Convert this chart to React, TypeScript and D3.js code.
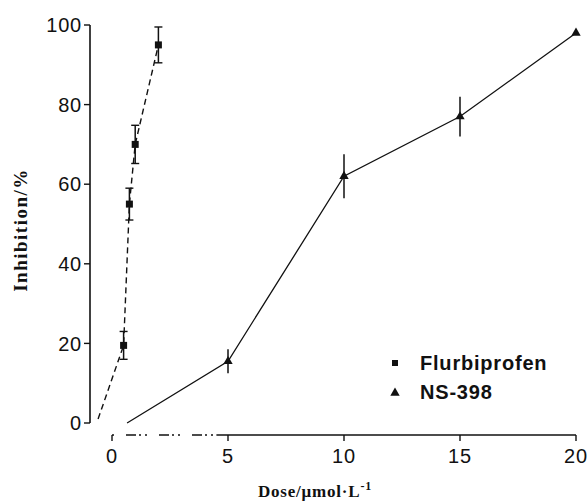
import React from "react";
import * as d3 from "d3";

// Flurbiprofen (squares, dashed line)
const flurbiOrigin = [-0.6, 1];
const flurbiDose = [0.5, 0.75, 1, 2];
const flurbiInhib = [19.5, 55, 70, 95];
const flurbiSd = [3.5, 4, 4.8, 4.5];

// NS-398 (triangles, solid line)
const nsOrigin = [0.65, 0];
const nsDose = [5, 10, 15, 20];
const nsInhib = [15.5, 62, 77, 98];
const nsSd = [3, 5.5, 5, 0];

const xTicks = [0, 5, 10, 15, 20];
const yTicks = [0, 20, 40, 60, 80, 100];
const legendLabels = ["Flurbiprofen", "NS-398"];

const W = 588;
const H = 501;

export default function App() {
  const x = d3.scaleLinear().domain([0, 20]).range([112, 576]);
  const y = d3.scaleLinear().domain([0, 100]).range([423, 25]);
  const line = d3
    .line<[number, number]>()
    .x((d) => x(d[0]))
    .y((d) => y(d[1]));

  const flurbiPts: [number, number][] = [
    [flurbiOrigin[0], flurbiOrigin[1]],
    ...flurbiDose.map((d, i) => [d, flurbiInhib[i]] as [number, number]),
  ];
  const nsPts: [number, number][] = [
    [nsOrigin[0], nsOrigin[1]],
    ...nsDose.map((d, i) => [d, nsInhib[i]] as [number, number]),
  ];

  const tri = d3.symbol().type(d3.symbolTriangle).size(38)() as string;
  const axisY = 435;
  const ink = "#111";
  const sans = "'Liberation Sans', Arial, sans-serif";
  const serif = "'Liberation Serif', 'Times New Roman', serif";

  return (
    <svg
      width={W}
      height={H}
      style={{ position: "absolute", left: 0, top: 0, background: "#fff" }}
    >
      <rect width={W} height={H} fill="#fff" />
      {/* Y axis */}
      <line x1={90} x2={90} y1={y(0)} y2={y(100)} stroke={ink} strokeWidth={1.6} />
      {yTicks.map((t) => (
        <g key={t}>
          <line x1={84} x2={90} y1={y(t)} y2={y(t)} stroke={ink} strokeWidth={1.4} />
          <text
            x={82}
            y={y(t)}
            dy="0.36em"
            textAnchor="end"
            fontFamily={sans}
            fontSize={20}
            letterSpacing={0.8}
            fill={ink}
          >
            {t}
          </text>
        </g>
      ))}
      {/* X axis */}
      <line
        x1={x(0)}
        x2={x(4.5)}
        y1={axisY}
        y2={axisY}
        stroke={ink}
        strokeWidth={1.4}
        strokeDasharray="2,12,10,3,2,4"
      />
      <line x1={x(4.5)} x2={x(20)} y1={axisY} y2={axisY} stroke={ink} strokeWidth={1.6} />
      {xTicks.map((t) => (
        <g key={t}>
          <line x1={x(t)} x2={x(t)} y1={axisY} y2={axisY + 6} stroke={ink} strokeWidth={1.4} />
          <text
            x={x(t)}
            y={463}
            textAnchor="middle"
            fontFamily={sans}
            fontSize={20}
            letterSpacing={0.8}
            fill={ink}
          >
            {t}
          </text>
        </g>
      ))}
      {/* Axis titles */}
      <text
        transform={`translate(27,230) rotate(-90)`}
        textAnchor="middle"
        fontFamily={serif}
        fontWeight="bold"
        fontSize={19}
        letterSpacing={1.5}
        fill={ink}
      >
        Inhibition/%
      </text>
      <text
        x={315}
        y={497}
        textAnchor="middle"
        fontFamily={serif}
        fontWeight="bold"
        fontSize={17}
        letterSpacing={0.8}
        fill={ink}
      >
        Dose/μmol·L
        <tspan dy={-7} fontSize={12}>
          -1
        </tspan>
      </text>

      {/* NS-398 */}
      <path d={line(nsPts) || ""} fill="none" stroke={ink} strokeWidth={1.3} />
      {nsDose.map((d, i) => (
        <g key={"ns" + i}>
          {nsSd[i] > 0 && (
            <line
              x1={x(d)}
              x2={x(d)}
              y1={y(nsInhib[i] - nsSd[i])}
              y2={y(nsInhib[i] + nsSd[i])}
              stroke={ink}
              strokeWidth={1.5}
            />
          )}
          <path d={tri} transform={`translate(${x(d)},${y(nsInhib[i])})`} fill={ink} />
        </g>
      ))}

      {/* Flurbiprofen */}
      <path
        d={line(flurbiPts) || ""}
        fill="none"
        stroke={ink}
        strokeWidth={1.4}
        strokeDasharray="6,4"
      />
      {flurbiDose.map((d, i) => (
        <g key={"fl" + i}>
          <line
            x1={x(d)}
            x2={x(d)}
            y1={y(flurbiInhib[i] - flurbiSd[i])}
            y2={y(flurbiInhib[i] + flurbiSd[i])}
            stroke={ink}
            strokeWidth={1.5}
          />
          <line
            x1={x(d) - 4}
            x2={x(d) + 4}
            y1={y(flurbiInhib[i] - flurbiSd[i])}
            y2={y(flurbiInhib[i] - flurbiSd[i])}
            stroke={ink}
            strokeWidth={1.4}
          />
          <line
            x1={x(d) - 4}
            x2={x(d) + 4}
            y1={y(flurbiInhib[i] + flurbiSd[i])}
            y2={y(flurbiInhib[i] + flurbiSd[i])}
            stroke={ink}
            strokeWidth={1.4}
          />
          <rect
            x={x(d) - 3.5}
            y={y(flurbiInhib[i]) - 3.5}
            width={7}
            height={7}
            fill={ink}
          />
        </g>
      ))}

      {/* Legend */}
      <rect x={392} y={360} width={6} height={6} fill={ink} />
      <path d={tri} transform="translate(395,393)" fill={ink} />
      {legendLabels.map((l, i) => (
        <text
          key={l}
          x={420}
          y={370 + i * 29}
          fontFamily={sans}
          fontWeight="bold"
          fontSize={20}
          letterSpacing={0.8}
          fill={ink}
        >
          {l}
        </text>
      ))}
    </svg>
  );
}
